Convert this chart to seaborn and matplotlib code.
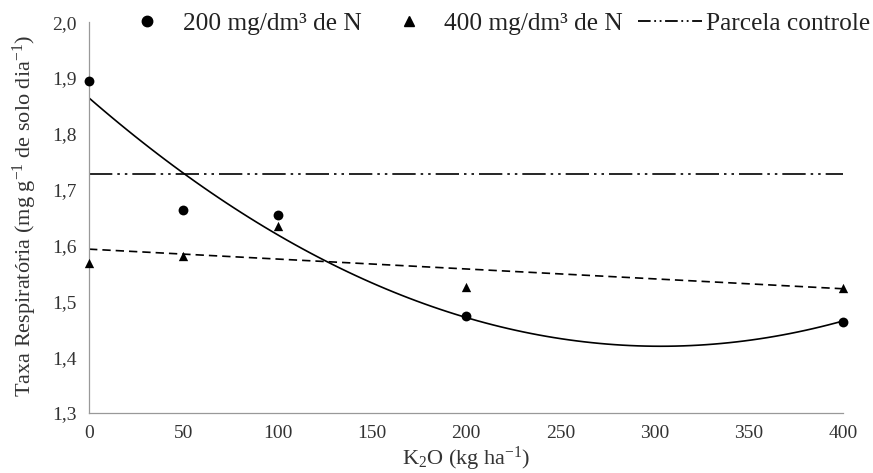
import numpy as np
import pandas as pd
import matplotlib
matplotlib.use("Agg")
import matplotlib.pyplot as plt
from matplotlib.lines import Line2D
from matplotlib.ticker import FuncFormatter
import seaborn as sns

# data
k2o = [0, 50, 100, 200, 400]
n200 = [1.895, 1.663, 1.654, 1.474, 1.463]
n400 = [1.568, 1.581, 1.635, 1.526, 1.524]
controle = 1.728
xticks = [0, 50, 100, 150, 200, 250, 300, 350, 400]
yticks = [1.3, 1.4, 1.5, 1.6, 1.7, 1.8, 1.9, 2.0]

sns.set_style("white")
plt.rcParams["font.family"] = ["Liberation Serif", "DejaVu Serif"]
plt.rcParams["mathtext.fontset"] = "custom"
plt.rcParams["mathtext.rm"] = "Liberation Serif"
plt.rcParams["mathtext.it"] = "Liberation Serif:italic"

df = pd.DataFrame({"x": k2o, "n200": n200, "n400": n400})

fig = plt.figure(figsize=(8.73, 4.73), dpi=100)
ax = fig.add_axes([0.102, 0.127, 0.864, 0.826])

sns.regplot(data=df, x="x", y="n200", order=2, ci=None, ax=ax, marker="o",
            scatter_kws=dict(s=50, color="black", alpha=1, linewidths=0,
                             clip_on=False, zorder=5),
            line_kws=dict(color="black", lw=1.2))
sns.regplot(data=df, x="x", y="n400", order=1, ci=None, ax=ax, marker="^",
            scatter_kws=dict(s=45, color="black", alpha=1, linewidths=0,
                             clip_on=False, zorder=5),
            line_kws=dict(color="black", lw=1.2, ls=(0, (5, 3))))
ax.plot([k2o[0], k2o[-1]], [controle, controle], color="black", lw=1.2,
        ls=(0, (14, 3, 1.5, 3, 1.5, 3)))

ax.set_xlim(0, 400)
ax.set_ylim(1.3, 2.0)
ax.set_xticks(xticks)
ax.set_yticks(yticks)
ax.yaxis.set_major_formatter(FuncFormatter(lambda v, p: f"{v:.1f}".replace(".", ",")))
ax.tick_params(axis="both", direction="out", length=4, width=0.8, color="#999999",
               labelsize=14, labelcolor="#333333", pad=5)
for s in ["top", "right"]:
    ax.spines[s].set_visible(False)
for s in ["left", "bottom"]:
    ax.spines[s].set_color("#999999")
    ax.spines[s].set_linewidth(0.9)

ax.set_xlabel(r"K$_2$O (kg ha$^{-1}$)", fontsize=16, color="#333333", labelpad=2)
ax.set_ylabel(r"Taxa Respiratória (mg g$^{-1}$ de solo dia$^{-1}$)", fontsize=16,
              color="#333333")
ax.yaxis.set_label_coords(-0.066, 0.505)

handles = [
    Line2D([], [], marker="o", color="black", ls="none", markersize=7.5),
    Line2D([], [], marker="^", color="black", ls="none", markersize=6.5),
    Line2D([], [], color="black", lw=1.3, ls=(0, (7, 2, 1, 2, 1, 2))),
]
labels = ["200 mg/dm³ de N", "400 mg/dm³ de N", "Parcela controle"]
leg = fig.legend(handles, labels, loc="center", bbox_to_anchor=(0.5643, 0.951), ncol=3,
                 frameon=False, fontsize=18.3, handlelength=2.5, columnspacing=0.6,
                 handletextpad=0.15, borderpad=0.1, borderaxespad=0)
for t in leg.get_texts():
    t.set_color("#222222")

fig.savefig("out.png", dpi=100)
